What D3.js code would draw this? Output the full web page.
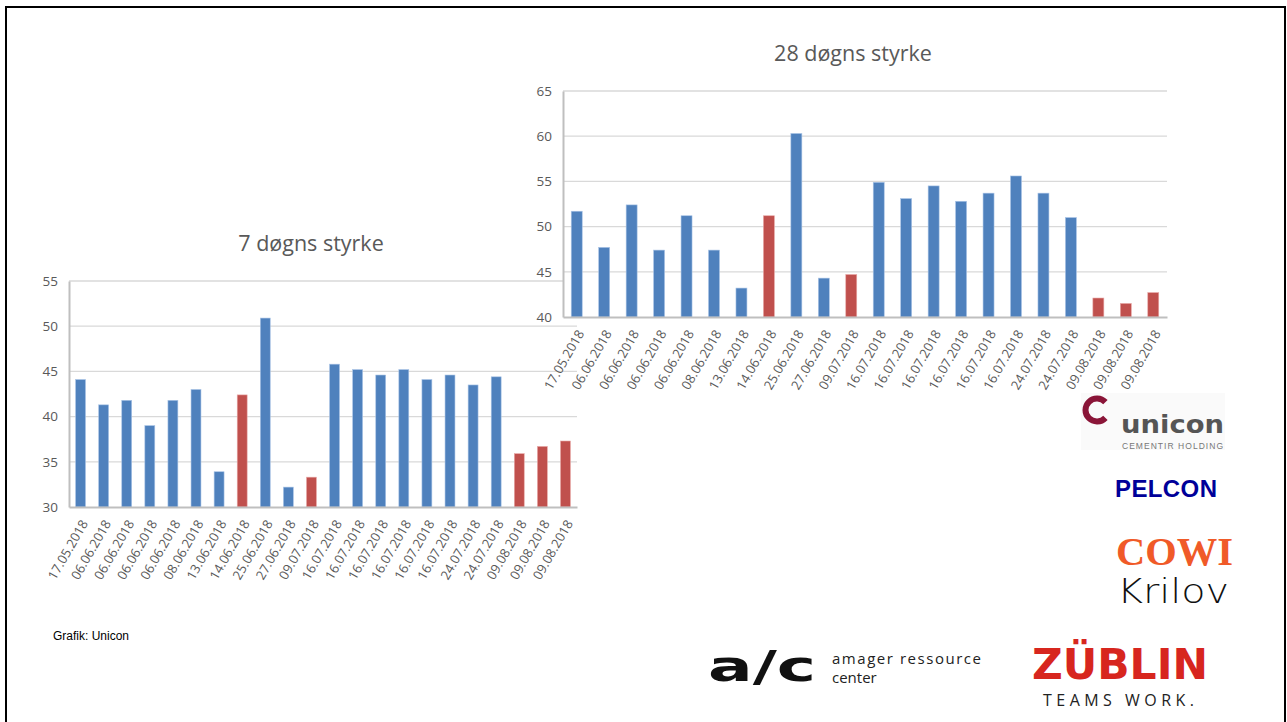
<!DOCTYPE html>
<html><head><meta charset="utf-8">
<script src="https://cdn.jsdelivr.net/npm/d3@7/dist/d3.min.js"></script>
<style>
html,body{margin:0;padding:0;background:#fff;}
svg{display:block;}
</style></head>
<body>
<svg id="c" width="1287" height="722"></svg>
<script>
const categories = ["17.05.2018","06.06.2018","06.06.2018","06.06.2018","06.06.2018","08.06.2018","13.06.2018","14.06.2018","25.06.2018","27.06.2018","09.07.2018","16.07.2018","16.07.2018","16.07.2018","16.07.2018","16.07.2018","16.07.2018","24.07.2018","24.07.2018","09.08.2018","09.08.2018","09.08.2018"];
const flagged = [0,0,0,0,0,0,0,1,0,0,1,0,0,0,0,0,0,0,0,1,1,1];
const strength7 = [44.1,41.3,41.8,39.0,41.8,43.0,33.9,42.4,50.9,32.2,33.3,45.8,45.2,44.6,45.2,44.1,44.6,43.5,44.4,35.9,36.7,37.3];
const strength28 = [51.7,47.7,52.4,47.4,51.2,47.4,43.2,51.2,60.3,44.3,44.7,54.9,53.1,54.5,52.8,53.7,55.6,53.7,51.0,42.1,41.5,42.7];
const ticks7 = [30,35,40,45,50,55];
const ticks28 = [40,45,50,55,60,65];
const titles = ["7 døgns styrke","28 døgns styrke"];

const BLUE = "#4f81bd", RED = "#c0504d", GRID = "#d9d9d9", AXIS = "#bfbfbf", TXT = "#595959";
const FONT = "'Open Sans', 'Liberation Sans', sans-serif";
const svg = d3.select("#c");

function drawChart(cfg){
  const g = svg.append("g");
  const x = d3.scaleBand().domain(d3.range(categories.length)).range([cfg.x0, cfg.x1])
    .paddingInner(cfg.pad).paddingOuter(cfg.pad/2);
  const y = d3.scaleLinear().domain([cfg.ticks[0], cfg.ticks[cfg.ticks.length-1]]).range([cfg.y0, cfg.y1]);
  if (cfg.bg) g.append("rect").attr("x", cfg.x0).attr("y", cfg.y1).attr("width", cfg.x1-cfg.x0).attr("height", cfg.y0-cfg.y1).attr("fill","#fff");
  g.append("g").selectAll("line").data(cfg.ticks.slice(1)).join("line")
    .attr("x1", cfg.x0).attr("x2", cfg.x1).attr("y1", d=>y(d)).attr("y2", d=>y(d))
    .attr("stroke", GRID).attr("stroke-width", 1.3);
  const ya = g.append("g").attr("transform", `translate(${cfg.x0},0)`)
    .call(d3.axisLeft(y).tickValues(cfg.ticks).tickSize(0).tickPadding(11));
  ya.select(".domain").attr("stroke", AXIS).attr("stroke-width", 2);
  ya.selectAll("text").attr("fill", TXT).style("font-family", FONT).style("font-size","13.5px");
  g.append("g").selectAll("rect").data(cfg.values).join("rect")
    .attr("x", (d,i)=>x(i)).attr("width", x.bandwidth())
    .attr("y", d=>y(d)).attr("height", d=>y(cfg.ticks[0])-y(d))
    .attr("fill", (d,i)=>flagged[i]?RED:BLUE)
    .attr("stroke", (d,i)=>flagged[i]?"#e8a9a7":"#a9c4e6").attr("stroke-width",0.6);
  const xa = g.append("g").attr("transform", `translate(0,${cfg.y0})`)
    .call(d3.axisBottom(x).tickFormat(i=>categories[i]).tickSize(0).tickPadding(0));
  xa.select(".domain").attr("stroke", AXIS).attr("stroke-width", 2);
  xa.selectAll("text").attr("fill", TXT).style("font-family", FONT).style("font-size","13px")
    .attr("text-anchor","end").attr("dy","0.35em")
    .attr("transform","translate(4,14) rotate(-60)").attr("x",0).attr("y",0);
  g.append("text").attr("x", cfg.tx).attr("y", cfg.ty).attr("text-anchor","middle")
    .attr("fill", TXT).style("font-family", FONT).style("font-size","21.5px").text(cfg.title);
}

drawChart({x0:69, x1:577, y0:507, y1:281, ticks:ticks7, values:strength7, pad:0.57, title:titles[0], tx:311, ty:251});
drawChart({x0:563, x1:1167, y0:317, y1:91, ticks:ticks28, values:strength28, pad:0.6, title:titles[1], tx:853, ty:61, bg:true});

svg.append("text").attr("x",53).attr("y",640).style("font-family","'Liberation Sans', Arial, sans-serif")
  .style("font-size","12px").attr("fill","#000").text("Grafik: Unicon");

const L = svg.append("g");
// unicon
L.append("rect").attr("x",1081).attr("y",393).attr("width",144).attr("height",57).attr("fill","#fafafa");
L.append("path").attr("d", d3.arc()({innerRadius:8.5, outerRadius:14.5, startAngle:Math.PI/2+0.75, endAngle:Math.PI/2+2*Math.PI-0.75}))
  .attr("transform","translate(1097,410)").attr("fill","#8a1538");
L.append("text").attr("x",1121).attr("y",433).style("font-family","'DejaVu Sans', sans-serif").style("font-weight","600")
  .style("font-size","25px").attr("fill","#555").attr("textLength",103).attr("lengthAdjust","spacingAndGlyphs").text("unicon");
L.append("text").attr("x",1122).attr("y",449).style("font-family","'Liberation Sans', sans-serif")
  .style("font-size","8.5px").attr("fill","#777").attr("textLength",101).text("CEMENTIR HOLDING");
// PELCON
L.append("text").attr("x",1115).attr("y",497).style("font-family","'Liberation Sans', Arial, sans-serif").style("font-weight","bold")
  .style("font-size","24px").attr("fill","#000099").attr("textLength",102).text("PELCON");
// COWI Krilov
L.append("text").attr("x",1116).attr("y",565).style("font-family","'Liberation Serif', serif").style("font-weight","bold")
  .style("font-size","40px").attr("fill","#f05a28").attr("textLength",117).attr("lengthAdjust","spacingAndGlyphs").text("COWI");
L.append("text").attr("x",1117).attr("y",603).style("font-family","'DejaVu Sans', sans-serif").style("font-weight","200")
  .style("font-size","34px").attr("fill","#111").attr("textLength",112).attr("lengthAdjust","spacingAndGlyphs").text("Krilov");
// Züblin
L.append("text").attr("x",1032).attr("y",679).style("font-family","'DejaVu Sans', sans-serif").style("font-weight","bold")
  .style("font-size","42px").attr("fill","#d7261e").attr("textLength",176).attr("lengthAdjust","spacingAndGlyphs").text("ZÜBLIN");
L.append("text").attr("x",1043).attr("y",706).style("font-family","'Open Sans', sans-serif")
  .style("font-size","16px").attr("fill","#222").attr("textLength",151).text("TEAMS WORK.");
// arc
L.append("text").attr("x",708).attr("y",681).style("font-family","'DejaVu Sans', sans-serif").style("font-weight","bold")
  .style("font-size","42px").attr("fill","#111").attr("textLength",108).attr("lengthAdjust","spacingAndGlyphs").text("a/c");
L.append("text").attr("x",832).attr("y",664).style("font-family","'Open Sans', sans-serif")
  .style("font-size","15px").attr("fill","#222").attr("textLength",149).text("amager ressource");
L.append("text").attr("x",832).attr("y",683).style("font-family","'Open Sans', sans-serif")
  .style("font-size","15px").attr("fill","#222").text("center");

svg.append("rect").attr("x",6).attr("y",7).attr("width",1279).attr("height",725)
  .attr("fill","none").attr("stroke","#000").attr("stroke-width",2);
</script>
</body></html>
